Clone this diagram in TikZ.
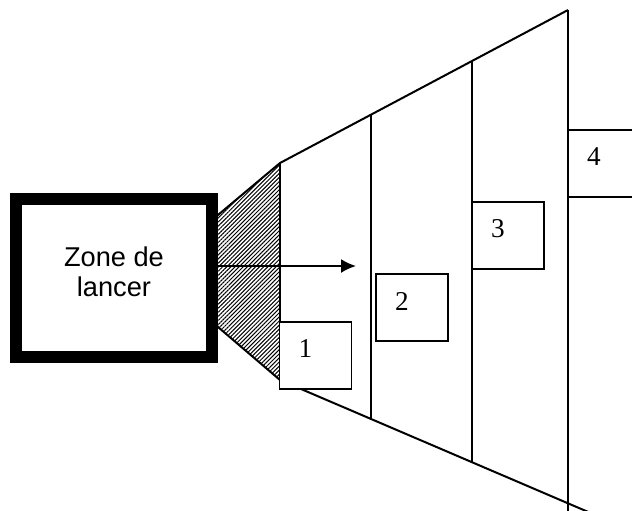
\documentclass[tikz,border=0pt]{standalone}
\usepackage{fontspec}
\newfontfamily\arialfont{Liberation Sans}
\newfontfamily\timesfont{Liberation Serif}
\usetikzlibrary{arrows.meta,patterns.meta}

\begin{document}
\begin{tikzpicture}[
    x=0.5pt,
    y=-0.5pt,
    zone/.style={
        draw,
        line width=6pt,
        minimum width=98pt,
        minimum height=79pt,
        align=center,
        text depth=6pt,
        font=\arialfont\fontsize{13.6}{15}\selectfont
    },
    numbox/.style={
        draw,
        fill=white,
        line width=0.8pt,
        minimum width=36pt,
        minimum height=33.5pt,
        inner sep=0pt
    },
    num/.style={inner sep=0pt, font=\timesfont\fontsize{13.6}{15}\selectfont},
    edge/.style={line width=1pt},
    hatch/.style={pattern={Lines[angle=45, distance=1.45pt, line width=0.5pt]}},
    arrow/.style={-{Latex[length=7.5pt,width=7pt]}, line width=1pt}
]
    \useasboundingbox (0,0) rectangle (632,510);
    \clip (0,0) rectangle (632,510);

    % hatched mouth
    \fill[hatch] (214,218) -- (280,163) -- (280,380) -- (214,324) -- cycle;

    % corridor
    \draw[edge] (214,218.3) -- (280,163) -- (568,10);
    \draw[edge] (214,323.6) -- (280,380) -- (600,517);
    \draw[edge] (280,163) -- (280,380);
    \draw[edge] (371,114.7) -- (371,420);
    \draw[edge] (472,61) -- (472,463);
    \draw[edge] (568,10) -- (568,515);

    \node[zone] (zone) at (114,278) {Zone de\\lancer};

    \coordinate (tip) at (356,266);
    \draw[arrow] (zone.east |- tip) -- (tip);

    \node[numbox] (b1) at (315.5,355.5) {};
    \node[numbox] (b2) at (412,307.5) {};
    \node[numbox] (b3) at (508,235.5) {};
    \node[numbox] (b4) at (604,163.5) {};

    \node[num] (n1) at ([shift={(-10,-6.5)}]b1.center) {1};
    \node[num] (n2) at ([shift={(-10,-6.5)}]b2.center) {2};
    \node[num] (n3) at ([shift={(-10,-6.5)}]b3.center) {3};
    \node[num] (n4) at ([shift={(-10,-6.5)}]b4.center) {4};
\end{tikzpicture}
\end{document}
